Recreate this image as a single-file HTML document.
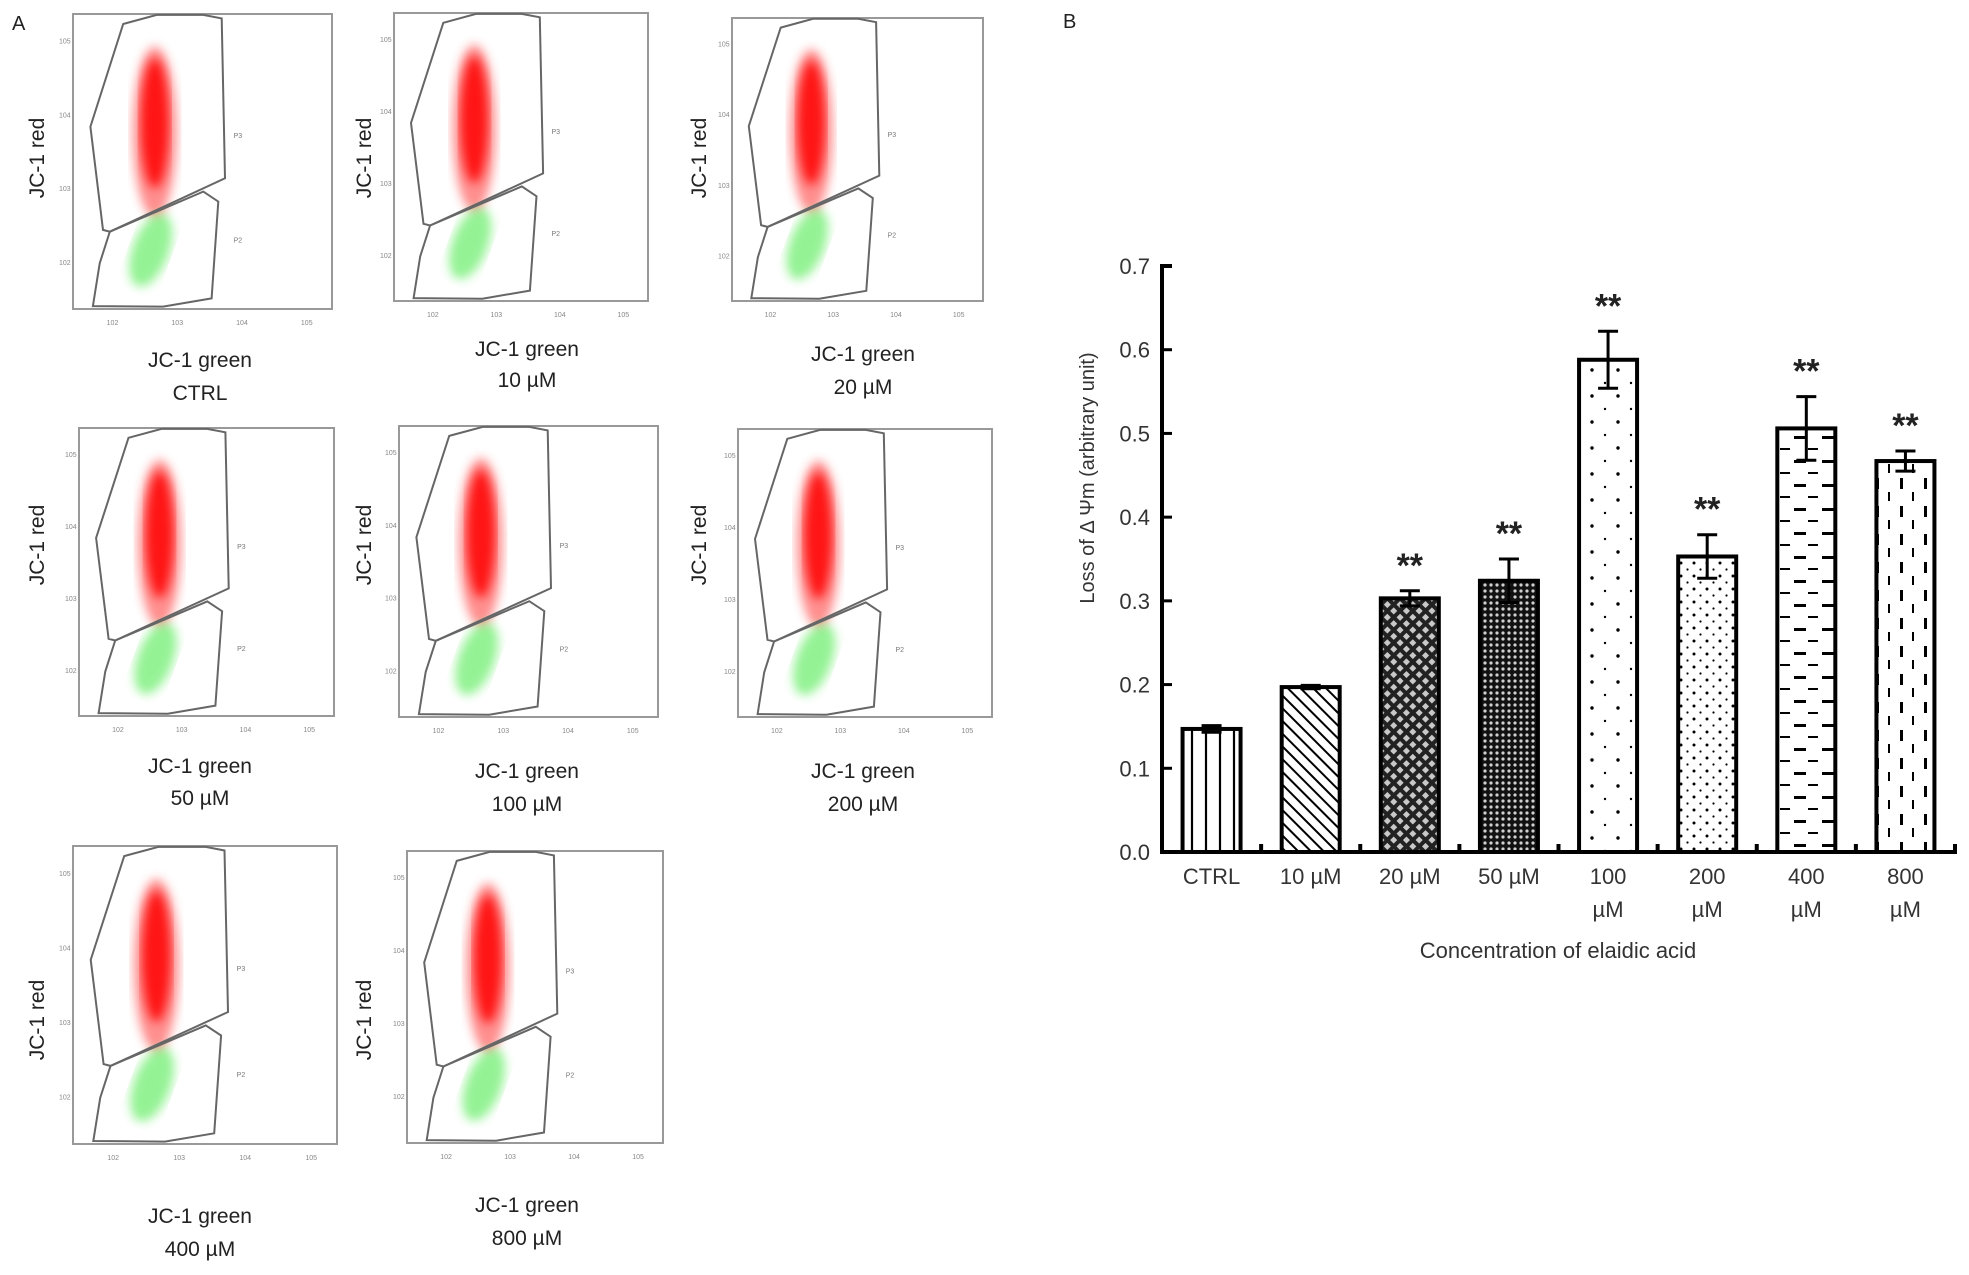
<!DOCTYPE html>
<html><head><meta charset="utf-8"><style>
html,body{margin:0;padding:0;background:#fff;}
body{width:1969px;height:1275px;overflow:hidden;position:relative;font-family:"Liberation Sans",Arial,sans-serif;}
svg{position:absolute;left:0;top:0;}
</style></head><body>
<svg id="fig" width="1969" height="1275" xmlns="http://www.w3.org/2000/svg">
<defs>
  <filter id="blur4"><feGaussianBlur stdDeviation="5"/></filter>
  <pattern id="p0" width="14" height="10" patternUnits="userSpaceOnUse"><rect width="14" height="10" fill="#fff"/><line x1="2" y1="0" x2="2" y2="10" stroke="#000" stroke-width="2.2"/></pattern>
  <pattern id="p1" width="9" height="9" patternUnits="userSpaceOnUse" patternTransform="rotate(-45)"><rect width="9" height="9" fill="#fff"/><line x1="0" y1="0" x2="0" y2="9" stroke="#000" stroke-width="4"/></pattern>
  <pattern id="p2" width="9" height="9" patternUnits="userSpaceOnUse" patternTransform="rotate(45)"><rect width="9" height="9" fill="#222"/><rect x="2" y="2" width="5" height="5" fill="#fff" opacity="0.75"/></pattern>
  <pattern id="p3" width="6" height="6" patternUnits="userSpaceOnUse"><rect width="6" height="6" fill="#111"/><circle cx="3" cy="3" r="1.6" fill="#fff" opacity="0.8"/></pattern>
  <pattern id="p4" width="26" height="26" patternUnits="userSpaceOnUse"><rect width="26" height="26" fill="#fff"/><circle cx="6" cy="6" r="1.7" fill="#000"/><circle cx="19" cy="19" r="1.2" fill="#000"/></pattern>
  <pattern id="p5" width="13" height="13" patternUnits="userSpaceOnUse"><rect width="13" height="13" fill="#fff"/><circle cx="4" cy="4" r="1.5" fill="#000"/><circle cx="10.5" cy="10.5" r="1.1" fill="#000"/></pattern>
  <pattern id="p6" width="28" height="24" patternUnits="userSpaceOnUse"><rect width="28" height="24" fill="#fff"/><rect x="2" y="4" width="12" height="3" fill="#000"/><rect x="16" y="16" width="10" height="2" fill="#000"/></pattern>
  <pattern id="p7" width="24" height="28" patternUnits="userSpaceOnUse"><rect width="24" height="28" fill="#fff"/><rect x="4" y="2" width="3" height="11" fill="#000"/><rect x="16" y="16" width="2" height="9" fill="#000"/></pattern>
</defs>
<g id="panelA"></g>
<g id="panelB"></g>
</svg>
<script>
// ---------- Chart B data ----------
const categories = ["CTRL","10 µM","20 µM","50 µM","100 µM","200 µM","400 µM","800 µM"];
const values = [0.147,0.197,0.303,0.324,0.588,0.353,0.506,0.467];
const errors = [0.004,0.002,0.009,0.026,0.034,0.026,0.038,0.012];
const significant = [false,false,true,true,true,true,true,true];
const yTicks = [0.0,0.1,0.2,0.3,0.4,0.5,0.6,0.7];
const yTickLabels = ["0.0","0.1","0.2","0.3","0.4","0.5","0.6","0.7"];

const NS="http://www.w3.org/2000/svg";
function mk(tag,attrs,parent,text){const e=document.createElementNS(NS,tag);for(const k in attrs)e.setAttribute(k,attrs[k]);if(text!==undefined)e.textContent=text;parent.appendChild(e);return e;}

// ---------- Panel B ----------
const gB=document.getElementById('panelB');
const X0=1162,X1=1955,Y0=852,Ytop=266;
const band=(X1-X0)/categories.length;
const yS=v=>Y0-(v/0.7)*(Y0-Ytop);
const xC=i=>X0+band*(i+0.5);
const barW=58;
let t=mk('text',{x:1063,y:28,'font-size':20,fill:'#222'},gB,'B');



categories.forEach((c,i)=>{
  const v=values[i],x=xC(i)-barW/2,y=yS(v);
  const r=mk('rect',{x:x,y:y,width:barW,height:Y0-y,fill:'url(#p'+i+')',stroke:'#000','stroke-width':4},gB);
  
  
  const e=errors[i],cx=xC(i);
  const eb=mk('path',{d:`M${cx-10},${yS(v+e)}H${cx+10}M${cx},${yS(v+e)}V${yS(v-e)}M${cx-10},${yS(v-e)}H${cx+10}`,stroke:'#000','stroke-width':3,fill:'none'},gB);
  
  
  if(significant[i]){
    const s=mk('text',{x:cx,y:yS(v+e)-14,'text-anchor':'middle','font-size':34,'font-weight':'bold',fill:'#222'},gB,'**');
    
    
  }
  const parts=c.split(' ');
  if(i<4){
    const l=mk('text',{x:cx,y:884,'text-anchor':'middle','font-size':22,fill:'#333'},gB,c);
    
    
  } else {
    const l=mk('text',{x:cx,y:884,'text-anchor':'middle','font-size':22,fill:'#333'},gB,parts[0]);
    
    
    const l2=mk('text',{x:cx,y:917,'text-anchor':'middle','font-size':22,fill:'#333'},gB,parts[1]);
    
    
  }
  if(i>0){
    const tk=mk('line',{x1:X0+band*i,y1:Y0,x2:X0+band*i,y2:Y0-8,stroke:'#000','stroke-width':4},gB);
    
    
  }
});
let ax=mk('path',{d:`M${X0+10},${Ytop}H${X0}V${Y0}H${X1}V${Y0-8}`,stroke:'#000','stroke-width':4,fill:'none'},gB);


yTicks.forEach((v,k)=>{
  const tk=mk('line',{x1:X0,y1:yS(v),x2:X0+10,y2:yS(v),stroke:'#000','stroke-width':3},gB);
  
  
  const l=mk('text',{x:X0-12,y:yS(v)+8,'text-anchor':'end','font-size':22,fill:'#333'},gB,yTickLabels[k]);
  
  
});
let yt=mk('text',{x:0,y:0,transform:'translate(1094,478) rotate(-90)','text-anchor':'middle','font-size':20,fill:'#333'},gB,'Loss of Δ Ψm  (arbitrary unit)');


let xt=mk('text',{x:1558,y:958,'text-anchor':'middle','font-size':22,fill:'#333'},gB,'Concentration of elaidic acid');



// ---------- Panel A ----------
const gA=document.getElementById('panelA');
const plotLabels=["CTRL","10 µM","20 µM","50 µM","100 µM","200 µM","400 µM","800 µM"];
const boxes=[[73,14,332,309],[394,13,648,301],[732,18,983,301],[79,428,334,716],[399,426,658,717],[738,429,992,717],[73,846,337,1144],[407,851,663,1143]];
const labelPos=[[200,360,393],[527,349,380],[863,354,387],[200,766,798],[527,771,804],[863,771,804],[200,1216,1249],[527,1205,1238]];
const redX=[37,364,699,37,364,699,37,364];
const redY=[158,158,158,545,545,545,1020,1020];
let A=mk('text',{x:12,y:30,'font-size':20,fill:'#222'},gA,'A');


const P3=[[0.194,0.034],[0.323,0.003],[0.503,0.003],[0.574,0.015],[0.587,0.557],[0.142,0.738],[0.116,0.732],[0.067,0.382]];
const P2=[[0.142,0.738],[0.503,0.602],[0.561,0.636],[0.535,0.964],[0.348,0.992],[0.077,0.990],[0.103,0.845]];
boxes.forEach((b,i)=>{
  const [x0,y0,x1,y1]=b,w=x1-x0,h=y1-y0;
  const g=mk('g',{},gA);
  
  
  const px=p=>(x0+p[0]*w).toFixed(1)+','+(y0+p[1]*h).toFixed(1);
  mk('ellipse',{cx:x0+0.316*w,cy:y0+0.40*h,rx:0.085*w,ry:0.29*h,fill:'#ff3030',opacity:0.55,filter:'url(#blur4)'},g);
  mk('ellipse',{cx:x0+0.316*w,cy:y0+0.37*h,rx:0.055*w,ry:0.22*h,fill:'#f00',opacity:0.85,filter:'url(#blur4)'},g);
  mk('ellipse',{cx:x0+0.30*w,cy:y0+0.80*h,rx:0.07*w,ry:0.13*h,fill:'#3ee83e',opacity:0.55,filter:'url(#blur4)',transform:`rotate(20 ${x0+0.30*w} ${y0+0.80*h})`},g);
  const bx=mk('rect',{x:x0,y:y0,width:w,height:h,fill:'none',stroke:'#999','stroke-width':2},g);
  
  
  const g3=mk('polygon',{points:P3.map(px).join(' '),fill:'none',stroke:'#666','stroke-width':2},g);
  
  
  const g2=mk('polygon',{points:P2.map(px).join(' '),fill:'none',stroke:'#666','stroke-width':2},g);
  
  
  mk('text',{x:x0+0.62*w,y:y0+0.42*h,'font-size':7,fill:'#777'},g,'P3');
  mk('text',{x:x0+0.62*w,y:y0+0.775*h,'font-size':7,fill:'#777'},g,'P2');
  [0.1,0.35,0.6,0.85].forEach((f,k)=>{mk('text',{x:x0-14,y:y0+f*h,'font-size':7,fill:'#888'},g,'10'+(5-k));
    mk('text',{x:x0+(0.13+0.25*k)*w,y:y1+16,'font-size':7,fill:'#888'},g,'10'+(2+k));});
  const rl=mk('text',{x:0,y:0,transform:`translate(${redX[i]+7},${redY[i]}) rotate(-90)`,'text-anchor':'middle','font-size':21,fill:'#222'},gA,'JC-1 red');
  
  
  const L=labelPos[i];
  const gl=mk('text',{x:L[0],y:L[1]+7,'text-anchor':'middle','font-size':21,fill:'#222'},gA,'JC-1 green');
  
  
  const cl=mk('text',{x:L[0],y:L[2]+7,'text-anchor':'middle','font-size':21,fill:'#222'},gA,plotLabels[i]);
  
  
});
</script>
</body></html>
